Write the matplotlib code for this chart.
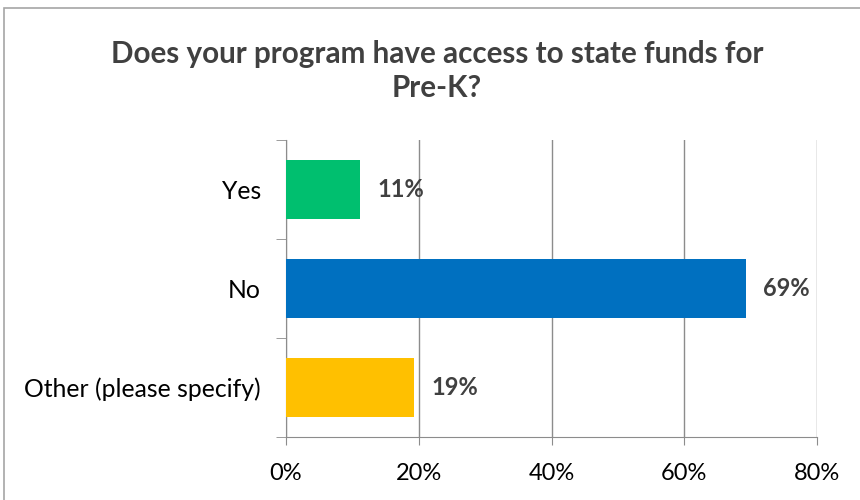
import matplotlib
matplotlib.use("Agg")
import matplotlib.pyplot as plt
from matplotlib.patches import Rectangle

# survey answers, top to bottom
categories = ["Yes", "No", "Other (please specify)"]
shares = [11.15, 69.3, 19.3]
value_labels = ["11%", "69%", "19%"]
bar_colors = ["#00BF6F", "#0070C0", "#FFC000"]
x_ticks = [0, 20, 40, 60, 80]
x_tick_labels = ["0%", "20%", "40%", "60%", "80%"]

TEXT = "#404040"
GRID = "#8c8c8c"
plt.rcParams["font.family"] = ["Lato", "DejaVu Sans"]

fig = plt.figure(figsize=(8.6, 5.0), dpi=100)
ax = fig.add_axes([286 / 860, 1 - 437 / 500, (817 - 286) / 860, (437 - 140) / 500])

pos = list(range(len(categories)))
ax.barh(pos, shares, height=0.6, color=bar_colors, zorder=3)
for p, v, lab in zip(pos, shares, value_labels):
    ax.text(v + 2.6, p, lab, va="center", ha="left", fontsize=17,
            fontweight="bold", color=TEXT, zorder=4)

ax.set_xlim(0, 80)
ax.set_ylim(len(categories) - 0.5, -0.5)
ax.set_xticks(x_ticks)
ax.set_xticklabels(x_tick_labels, fontsize=17, color="black")
ax.set_yticks(pos)
ax.set_yticklabels(categories, fontsize=17.8, color="black")
ax.set_yticks([-0.5, 0.5, 1.5, 2.5], minor=True)

ax.grid(axis="x", color=GRID, lw=1, zorder=0)
for s in ["top", "right"]:
    ax.spines[s].set_visible(False)
for s in ["left", "bottom"]:
    ax.spines[s].set_color(GRID)
ax.tick_params(axis="x", length=6, color=GRID, pad=13)
ax.tick_params(axis="y", which="major", length=0, pad=18)
ax.tick_params(axis="y", which="minor", length=7, color=GRID)

fig.text(437 / 860, 1 - 71 / 500,
         "Does your program have access to state funds for\nPre-K?",
         ha="center", va="center", fontsize=21.3, fontweight="bold",
         color=TEXT, linespacing=1.3)

# chart frame
fig.patches.append(Rectangle((4 / 860, -0.1), 1.2, 1 - 8 / 500 + 0.1,
                             transform=fig.transFigure, fill=False,
                             edgecolor="#a6a6a6", lw=1.2))

fig.savefig("out.png", dpi=100, facecolor="white")
